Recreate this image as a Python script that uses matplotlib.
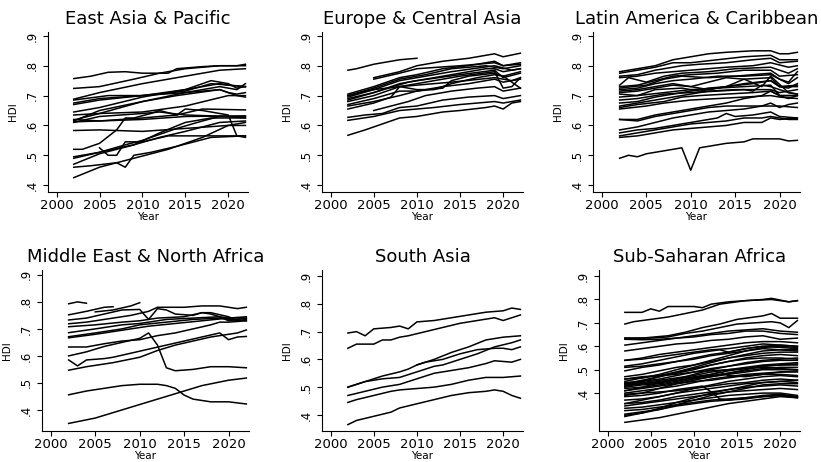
import matplotlib.pyplot as plt

# HDI por país, leído a ojo del gráfico (cada línea: años, valores)
eap = [
    ([2002, 2004, 2006, 2008, 2010, 2013, 2014, 2017, 2019, 2022], [.757, .765, .778, .78, .775, .775, .79, .797, .80, .80]),
    ([2002, 2005, 2009, 2012, 2015, 2019, 2021, 2022], [.724, .73, .755, .775, .79, .80, .80, .805]),
    ([2002, 2005, 2010, 2015, 2019, 2022], [.688, .71, .74, .765, .785, .79]),
    ([2002, 2006, 2010, 2015, 2018, 2020, 2022], [.685, .70, .70, .715, .74, .735, .73]),
    ([2002, 2005, 2010, 2015, 2018, 2020, 2021, 2022], [.675, .69, .70, .72, .75, .74, .725, .73]),
    ([2002, 2005, 2010, 2015, 2019, 2020, 2021, 2022], [.67, .685, .70, .71, .72, .71, .705, .71]),
    ([2002, 2005, 2010, 2015, 2019, 2020, 2022], [.645, .66, .695, .72, .74, .735, .73]),
    ([2002, 2005, 2010, 2015, 2020, 2022], [.635, .64, .645, .665, .70, .70]),
    ([2002, 2005, 2010, 2015, 2019, 2021, 2022], [.618, .64, .68, .71, .73, .72, .74]),
    ([2002, 2005, 2010, 2014, 2019, 2021, 2022], [.615, .65, .68, .70, .72, .70, .695]),
    ([2002, 2005, 2010, 2014, 2017, 2022], [.612, .615, .625, .635, .655, .652]),
    ([2002, 2005, 2010, 2012, 2015, 2020, 2022], [.61, .63, .64, .645, .635, .63, .625]),
    ([2002, 2005, 2010, 2015, 2022], [.62, .615, .62, .63, .632]),
    ([2002, 2005, 2010, 2015, 2020, 2022], [.583, .585, .58, .59, .60, .60]),
    ([2002, 2003, 2005, 2007, 2008, 2009, 2011, 2012, 2014, 2015, 2017, 2019, 2020, 2021, 2022],
     [.52, .52, .54, .585, .625, .625, .64, .65, .635, .655, .65, .64, .635, .565, .56]),
    ([2002, 2005, 2008, 2010, 2014, 2017, 2019, 2020, 2022], [.495, .51, .535, .55, .59, .615, .63, .63, .63]),
    ([2002, 2005, 2009, 2012, 2015, 2018, 2022], [.49, .51, .535, .575, .61, .625, .625]),
    ([2002, 2005, 2009, 2012, 2015, 2019, 2022], [.47, .505, .535, .56, .58, .61, .615]),
    ([2005, 2006, 2007, 2008, 2010, 2013, 2022], [.525, .50, .50, .545, .545, .565, .565]),
    ([2002, 2004, 2007, 2008, 2009, 2011, 2014, 2018, 2022], [.46, .465, .475, .46, .50, .51, .53, .56, .565]),
    ([2002, 2005, 2009, 2013, 2017, 2020, 2022], [.425, .46, .49, .52, .56, .60, .61]),
]

eca = [
    ([2002, 2003, 2005, 2008, 2010], [.785, .79, .805, .82, .825]),
    ([2005, 2008, 2010, 2013, 2016, 2019, 2020, 2022], [.76, .78, .80, .815, .825, .84, .83, .842]),
    ([2005, 2008, 2010, 2015, 2019, 2020, 2022], [.755, .775, .79, .80, .81, .80, .81]),
    ([2002, 2005, 2008, 2010, 2013, 2016, 2019, 2020, 2022], [.705, .73, .76, .77, .79, .80, .815, .80, .805]),
    ([2002, 2005, 2008, 2011, 2014, 2018, 2020, 2022], [.70, .725, .755, .77, .79, .80, .79, .80]),
    ([2002, 2005, 2008, 2010, 2014, 2019, 2021, 2022], [.695, .72, .75, .76, .78, .80, .785, .79]),
    ([2002, 2005, 2008, 2010, 2015, 2019, 2020, 2022], [.685, .71, .74, .75, .77, .785, .76, .775]),
    ([2002, 2005, 2008, 2011, 2015, 2019, 2020, 2021, 2022], [.68, .70, .73, .745, .765, .78, .725, .73, .76]),
    ([2002, 2005, 2008, 2010, 2013, 2014, 2016, 2019, 2020, 2021, 2022], [.67, .69, .715, .715, .725, .75, .765, .775, .765, .745, .725]),
    ([2002, 2005, 2008, 2010, 2013, 2016, 2019, 2020, 2022], [.665, .68, .70, .715, .73, .74, .755, .745, .755]),
    ([2002, 2005, 2007, 2008, 2010, 2014, 2019, 2021, 2022], [.655, .675, .695, .73, .735, .745, .76, .75, .76]),
    ([2002, 2005, 2008, 2010, 2012, 2014, 2017, 2019, 2020, 2022], [.70, .72, .73, .72, .72, .74, .76, .77, .765, .78]),
    ([2002, 2005, 2009, 2012, 2015, 2018, 2019, 2020, 2022], [.69, .71, .745, .76, .775, .79, .79, .78, .79]),
    ([2005, 2007, 2009, 2011, 2014, 2017, 2019, 2020, 2022], [.65, .665, .68, .70, .715, .725, .73, .715, .725]),
    ([2002, 2004, 2006, 2008, 2010, 2013, 2016, 2019, 2020, 2022], [.627, .635, .64, .66, .665, .685, .695, .70, .69, .70]),
    ([2002, 2005, 2008, 2010, 2012, 2015, 2017, 2019, 2020, 2022], [.617, .63, .65, .655, .66, .67, .675, .68, .675, .685]),
    ([2002, 2004, 2006, 2008, 2010, 2013, 2015, 2018, 2019, 2020, 2021, 2022], [.567, .585, .605, .625, .63, .645, .65, .66, .665, .655, .675, .68]),
]

lac = [
    ([2002, 2003, 2004, 2005, 2006, 2007, 2008, 2009, 2010, 2011, 2012, 2014, 2016, 2017, 2019, 2020, 2021, 2022],
     [.49, .50, .495, .505, .51, .515, .52, .525, .45, .525, .53, .54, .545, .555, .555, .555, .548, .55]),
    ([2002, 2004, 2006, 2008, 2010, 2012, 2014, 2017, 2019, 2020, 2021, 2022], [.78, .79, .80, .82, .83, .84, .845, .85, .85, .84, .84, .845]),
    ([2002, 2004, 2006, 2008, 2010, 2013, 2016, 2019, 2020, 2022], [.775, .785, .795, .81, .81, .82, .83, .835, .82, .82]),
    ([2002, 2004, 2006, 2009, 2011, 2014, 2017, 2019, 2020, 2022], [.765, .77, .785, .80, .805, .81, .82, .825, .81, .815]),
    ([2002, 2004, 2006, 2010, 2014, 2017, 2019, 2021, 2022], [.76, .765, .775, .785, .795, .80, .81, .795, .80]),
    ([2002, 2003, 2005, 2007, 2009, 2012, 2015, 2019, 2021, 2022], [.735, .76, .745, .765, .775, .78, .79, .795, .775, .79]),
    ([2002, 2004, 2006, 2008, 2010, 2013, 2016, 2019, 2020, 2022], [.73, .735, .75, .765, .77, .775, .785, .785, .765, .77]),
    ([2002, 2005, 2007, 2009, 2012, 2015, 2019, 2020, 2021, 2022], [.725, .735, .755, .765, .76, .765, .775, .755, .74, .76]),
    ([2002, 2004, 2006, 2008, 2010, 2013, 2016, 2019, 2020, 2021, 2022], [.72, .725, .74, .75, .755, .765, .765, .77, .755, .745, .78]),
    ([2002, 2004, 2006, 2008, 2010, 2012, 2014, 2016, 2019, 2020, 2022], [.715, .72, .73, .74, .73, .745, .76, .755, .76, .73, .73]),
    ([2002, 2004, 2007, 2008, 2010, 2012, 2014, 2016, 2018, 2019, 2021, 2022], [.71, .715, .73, .735, .73, .72, .73, .755, .73, .765, .71, .705]),
    ([2002, 2004, 2006, 2009, 2011, 2014, 2017, 2019, 2020, 2021, 2022], [.705, .70, .72, .725, .715, .73, .74, .75, .73, .725, .74]),
    ([2002, 2004, 2007, 2010, 2013, 2016, 2019, 2020, 2021, 2022], [.695, .70, .71, .72, .725, .73, .735, .70, .69, .70]),
    ([2002, 2004, 2007, 2010, 2013, 2016, 2017, 2018, 2019, 2021, 2022], [.685, .69, .705, .71, .715, .72, .715, .735, .73, .71, .705]),
    ([2002, 2004, 2006, 2008, 2010, 2012, 2014, 2016, 2019, 2020, 2022], [.675, .68, .695, .705, .715, .725, .73, .74, .75, .73, .735]),
    ([2002, 2005, 2007, 2009, 2012, 2015, 2019, 2020, 2022], [.665, .68, .69, .70, .715, .72, .72, .71, .72]),
    ([2002, 2004, 2007, 2009, 2011, 2014, 2017, 2019, 2020, 2022], [.66, .67, .68, .695, .70, .705, .71, .715, .70, .70]),
    ([2002, 2005, 2007, 2010, 2013, 2016, 2019, 2020, 2022], [.655, .665, .675, .685, .69, .695, .70, .695, .69]),
    ([2002, 2004, 2006, 2008, 2010, 2012, 2014, 2016, 2018, 2019, 2020, 2022], [.62, .62, .635, .645, .655, .665, .675, .69, .70, .715, .70, .70]),
    ([2002, 2004, 2006, 2008, 2010, 2012, 2014, 2016, 2019, 2020, 2022], [.62, .615, .63, .64, .65, .66, .665, .665, .665, .665, .66]),
    ([2002, 2004, 2006, 2008, 2010, 2012, 2014, 2016, 2018, 2019, 2020, 2021, 2022], [.585, .595, .61, .625, .635, .645, .65, .655, .665, .675, .66, .67, .675]),
    ([2002, 2004, 2006, 2008, 2010, 2012, 2013, 2014, 2015, 2017, 2019, 2020, 2022], [.575, .585, .59, .60, .61, .62, .625, .64, .63, .635, .645, .63, .625]),
    ([2002, 2004, 2006, 2008, 2010, 2012, 2014, 2016, 2018, 2019, 2020, 2021, 2022], [.565, .575, .585, .595, .605, .61, .615, .625, .625, .63, .625, .62, .62]),
    ([2002, 2004, 2006, 2008, 2010, 2012, 2014, 2016, 2018, 2019, 2020, 2022], [.56, .565, .575, .585, .59, .595, .60, .61, .61, .625, .62, .625]),
]

mena = [
    ([2002, 2003, 2004], [.793, .80, .795]),
    ([2002, 2004, 2006, 2007], [.752, .765, .78, .782]),
    ([2005, 2007, 2009, 2010], [.763, .77, .785, .797]),
    ([2002, 2004, 2006, 2008, 2010, 2011, 2012, 2013, 2014, 2016, 2017, 2018, 2019, 2020, 2022],
     [.733, .74, .755, .77, .772, .735, .775, .77, .755, .75, .76, .755, .745, .73, .74]),
    ([2002, 2004, 2006, 2009, 2011, 2012, 2015, 2017, 2019, 2021, 2022], [.719, .725, .735, .75, .765, .78, .78, .785, .785, .775, .78]),
    ([2002, 2005, 2008, 2010, 2012, 2015, 2017, 2018, 2020, 2021, 2022], [.708, .715, .725, .73, .74, .745, .76, .76, .745, .73, .735]),
    ([2002, 2005, 2008, 2010, 2013, 2016, 2019, 2020, 2022], [.686, .70, .715, .72, .735, .74, .745, .74, .745]),
    ([2002, 2005, 2008, 2010, 2013, 2016, 2019, 2020, 2022], [.671, .685, .70, .715, .725, .735, .74, .735, .73]),
    ([2002, 2005, 2008, 2011, 2014, 2017, 2020, 2022], [.667, .68, .695, .71, .72, .73, .74, .74]),
    ([2002, 2004, 2006, 2008, 2010, 2012, 2014, 2016, 2018, 2019, 2020, 2022], [.633, .633, .645, .655, .66, .675, .685, .70, .715, .725, .725, .73]),
    ([2002, 2004, 2006, 2008, 2010, 2011, 2012, 2013, 2014, 2016, 2018, 2020, 2022], [.60, .615, .635, .65, .665, .685, .64, .556, .545, .55, .56, .56, .556]),
    ([2002, 2003, 2004, 2006, 2007, 2009, 2011, 2013, 2015, 2017, 2019, 2020, 2021, 2022],
     [.585, .563, .585, .59, .595, .61, .625, .64, .655, .67, .685, .66, .67, .672]),
    ([2002, 2004, 2007, 2010, 2012, 2014, 2016, 2018, 2020, 2021, 2022], [.547, .56, .575, .595, .62, .64, .655, .67, .68, .685, .696]),
    ([2002, 2004, 2006, 2008, 2010, 2012, 2013, 2014, 2015, 2016, 2018, 2020, 2022],
     [.456, .47, .48, .49, .495, .495, .49, .48, .455, .44, .43, .43, .422]),
    ([2002, 2005, 2008, 2011, 2014, 2017, 2020, 2022], [.35, .37, .40, .43, .46, .49, .51, .518]),
]

sa = [
    ([2002, 2003, 2004, 2005, 2007, 2008, 2009, 2010, 2012, 2014, 2016, 2018, 2020, 2021, 2022],
     [.695, .70, .685, .71, .715, .72, .71, .735, .74, .75, .76, .77, .775, .785, .78]),
    ([2002, 2003, 2005, 2006, 2007, 2008, 2009, 2011, 2013, 2015, 2018, 2019, 2020, 2021, 2022],
     [.64, .655, .655, .67, .67, .68, .685, .70, .715, .73, .745, .75, .74, .75, .76]),
    ([2002, 2004, 2006, 2008, 2009, 2010, 2012, 2014, 2016, 2018, 2020, 2022], [.50, .52, .54, .555, .565, .58, .60, .625, .645, .67, .68, .685]),
    ([2002, 2004, 2006, 2008, 2010, 2012, 2013, 2015, 2017, 2019, 2021, 2022], [.50, .52, .53, .535, .555, .575, .58, .60, .62, .645, .66, .67]),
    ([2010, 2011, 2013, 2015, 2017, 2019, 2020, 2021, 2022], [.58, .59, .60, .62, .635, .64, .64, .635, .645]),
    ([2002, 2004, 2006, 2008, 2010, 2012, 2014, 2016, 2018, 2019, 2021, 2022], [.47, .485, .50, .51, .53, .55, .56, .57, .585, .595, .59, .60]),
    ([2002, 2003, 2005, 2007, 2008, 2010, 2012, 2014, 2016, 2018, 2020, 2022], [.445, .455, .47, .485, .49, .495, .50, .51, .525, .535, .535, .54]),
    ([2002, 2003, 2005, 2007, 2008, 2010, 2012, 2014, 2016, 2018, 2019, 2020, 2021, 2022],
     [.365, .38, .395, .41, .425, .44, .455, .47, .48, .485, .49, .485, .47, .46]),
]

ssa_years = [2002, 2004, 2006, 2008, 2010, 2012, 2014, 2016, 2018, 2020, 2022]
ssa = [
    ([2002, 2004, 2005, 2006, 2007, 2010, 2011, 2012, 2014, 2016, 2018, 2019, 2021, 2022],
     [.745, .745, .76, .75, .77, .77, .765, .78, .79, .795, .80, .805, .79, .795]),
    ([2002, 2003, 2005, 2007, 2009, 2011, 2013, 2016, 2019, 2021, 2022], [.695, .705, .715, .725, .74, .755, .78, .795, .80, .79, .795]),
    ([2002, 2004, 2007, 2009, 2011, 2013, 2015, 2016, 2018, 2019, 2020, 2022], [.635, .635, .645, .66, .68, .695, .715, .72, .73, .74, .72, .72]),
    ([2002, 2005, 2007, 2009, 2011, 2013, 2015, 2017, 2019, 2020, 2021, 2022], [.635, .635, .64, .655, .665, .68, .695, .70, .705, .70, .68, .71]),
    (ssa_years, [.63, .628, .63, .635, .64, .65, .655, .665, .665, .655, .65]),
    (ssa_years, [.605, .615, .625, .635, .645, .655, .665, .67, .675, .665, .66]),
    (ssa_years, [.58, .59, .60, .61, .615, .625, .63, .64, .645, .63, .635]),
    (ssa_years, [.54, .55, .565, .575, .585, .595, .605, .615, .62, .62, .615]),
    (ssa_years, [.54, .545, .555, .565, .575, .585, .59, .60, .61, .605, .60]),
    ([2002, 2004, 2006, 2008, 2010, 2012, 2013, 2014, 2016, 2018, 2020, 2022], [.515, .525, .54, .555, .57, .58, .585, .575, .59, .60, .595, .59]),
    (ssa_years, [.51, .515, .525, .535, .55, .565, .575, .59, .60, .605, .60]),
    (ssa_years, [.495, .51, .52, .535, .545, .56, .57, .58, .59, .585, .585]),
    (ssa_years, [.47, .48, .495, .51, .52, .535, .55, .56, .57, .575, .575]),
    (ssa_years, [.46, .465, .475, .49, .505, .52, .535, .55, .56, .565, .56]),
    (ssa_years, [.445, .45, .46, .475, .49, .505, .515, .53, .54, .545, .55]),
    (ssa_years, [.44, .445, .455, .465, .475, .49, .50, .51, .52, .525, .53]),
    (ssa_years, [.435, .44, .45, .46, .47, .48, .495, .505, .515, .52, .52]),
    (ssa_years, [.43, .44, .445, .455, .465, .475, .485, .495, .505, .51, .51]),
    ([2002, 2004, 2006, 2008, 2010, 2012, 2013, 2014, 2016, 2018, 2020, 2022], [.425, .435, .44, .45, .465, .48, .49, .475, .47, .48, .49, .495]),
    (ssa_years, [.42, .425, .435, .445, .46, .47, .48, .49, .50, .50, .50]),
    (ssa_years, [.41, .42, .43, .44, .45, .455, .465, .475, .48, .48, .475]),
    (ssa_years, [.40, .41, .42, .43, .445, .46, .47, .48, .485, .49, .49]),
    (ssa_years, [.395, .40, .405, .41, .42, .43, .44, .445, .455, .46, .455]),
    ([2002, 2004, 2006, 2008, 2010, 2011, 2012, 2013, 2014, 2016, 2018, 2020, 2022],
     [.385, .39, .40, .415, .425, .43, .405, .375, .37, .375, .385, .39, .385]),
    (ssa_years, [.37, .375, .385, .40, .41, .42, .43, .44, .445, .45, .445]),
    (ssa_years, [.355, .36, .37, .385, .395, .405, .415, .425, .43, .435, .43]),
    (ssa_years, [.345, .355, .365, .375, .385, .395, .405, .41, .415, .42, .415]),
    (ssa_years, [.335, .34, .35, .36, .37, .38, .39, .395, .40, .40, .39]),
    (ssa_years, [.325, .33, .34, .35, .36, .37, .375, .38, .39, .395, .385]),
    (ssa_years, [.31, .32, .33, .345, .355, .365, .37, .38, .385, .39, .38]),
    (ssa_years, [.305, .315, .33, .35, .37, .39, .405, .42, .435, .44, .44]),
    (ssa_years, [.30, .315, .335, .36, .38, .40, .415, .43, .445, .45, .455]),
    (ssa_years, [.275, .285, .295, .31, .325, .34, .355, .365, .375, .385, .38]),
    (ssa_years, [.45, .465, .48, .50, .52, .54, .56, .58, .595, .60, .595]),
    (ssa_years, [.44, .455, .47, .485, .50, .52, .535, .545, .55, .55, .545]),
    (ssa_years, [.43, .45, .47, .49, .51, .53, .55, .565, .58, .585, .58]),
    (ssa_years, [.41, .425, .445, .46, .48, .50, .515, .525, .535, .54, .54]),
    (ssa_years, [.39, .40, .42, .44, .455, .47, .485, .50, .515, .52, .525]),
    (ssa_years, [.46, .47, .475, .48, .49, .495, .50, .505, .51, .505, .50]),
    (ssa_years, [.355, .37, .385, .40, .42, .435, .45, .46, .47, .475, .47]),
]

regions = ['East Asia & Pacific', 'Europe & Central Asia', 'Latin America & Caribbean',
           'Middle East & North Africa', 'South Asia', 'Sub-Saharan Africa']
region_lines = [eap, eca, lac, mena, sa, ssa]

xticks = [2000, 2005, 2010, 2015, 2020]
yticks = [.4, .5, .6, .7, .8, .9]
ytick_labels = ['.4', '.5', '.6', '.7', '.8', '.9']

# posición de cada panel en píxeles (izq, arriba, der, abajo) y límites del eje y
W, H = 821, 462
boxes = [(48, 32, 248, 192), (322, 32, 523, 192), (593, 32, 800, 192),
         (42, 270, 249, 431), (322, 270, 523, 431), (599, 270, 800, 431)]
ylims = [(0.377, 0.913), (0.377, 0.913), (0.377, 0.913),
         (0.322, 0.918), (0.342, 0.922), (0.238, 0.926)]

fig = plt.figure(figsize=(W / 100, H / 100), dpi=100)

for name, lines, (l, t, r, b), ylim in zip(regions, region_lines, boxes, ylims):
    ax = fig.add_axes([l / W, 1 - b / H, (r - l) / W, (b - t) / H])
    for yrs, vals in lines:
        ax.plot(yrs, vals, color='black', lw=1.1)
    ax.set_xlim(1999, 2022.3)
    ax.set_ylim(*ylim)
    ax.set_xticks(xticks)
    ax.set_yticks(yticks)
    ax.set_yticklabels(ytick_labels, rotation=90, va='center')
    ax.tick_params(direction='out', length=3.6, width=0.8)
    ax.tick_params(axis='x', pad=1.5, labelsize=9.5)
    ax.tick_params(axis='y', pad=3, labelsize=8.5)
    for s in ['top', 'right']:
        ax.spines[s].set_visible(False)
    for s in ['left', 'bottom']:
        ax.spines[s].set_linewidth(0.8)
    ax.set_xlabel('Year', fontsize=7.5, labelpad=0)
    ax.set_ylabel('HDI', fontsize=7.5)
    ax.yaxis.set_label_coords(-30 / (r - l), 0.5)
    ax.set_title(name, fontsize=13, pad=6)

fig.savefig('out.png', dpi=100, facecolor='white')
